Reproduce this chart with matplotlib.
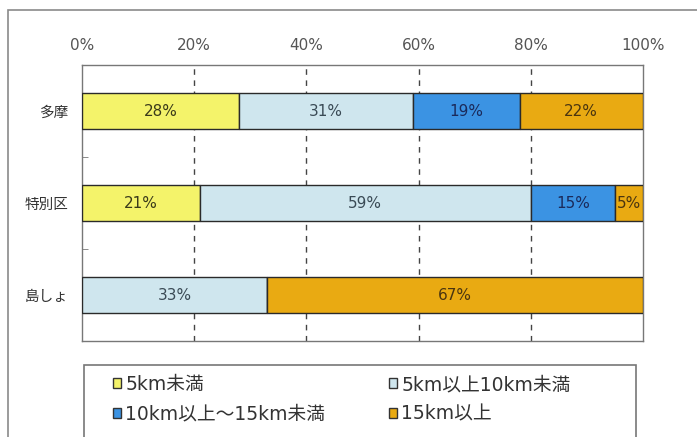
import numpy as np
import matplotlib
matplotlib.use("Agg")
import matplotlib.pyplot as plt
from matplotlib.patches import Rectangle, Patch

plt.rcParams["font.family"] = ["DejaVu Sans", "Noto Sans CJK JP"]

regions = ["多摩", "特別区", "島しょ"]
categories = ["5km未満", "5km以上10km未満", "10km以上～15km未満", "15km以上"]
shares = {
    "5km未満": [28, 21, 0],
    "5km以上10km未満": [31, 59, 33],
    "10km以上～15km未満": [19, 15, 0],
    "15km以上": [22, 5, 67],
}
colors = ["#f4f36a", "#cfe6ee", "#3b93e3", "#e9aa12"]
text_colors = ["#3a3a1a", "#3a4a55", "#1b2a5a", "#4a3510"]
xticks = [0, 20, 40, 60, 80, 100]

fig = plt.figure(figsize=(6.97, 4.37), dpi=100)
W, H = 697, 437

# outer frame of the figure panel
fig.patches.append(Rectangle((8 / W, -0.1), 2.0, 1 - 10 / H + 0.1,
                             transform=fig.transFigure, fill=False,
                             edgecolor="#8a8a8a", linewidth=1.2))

ax = fig.add_axes([82 / W, 1 - 341 / H, (643 - 82) / W, (341 - 65) / H])
y = np.arange(len(regions))
left = np.zeros(len(regions))
for cat, col, tcol in zip(categories, colors, text_colors):
    vals = np.array(shares[cat], dtype=float)
    ax.barh(y, vals, left=left, height=0.4, color=col,
            edgecolor="#2a2a2a", linewidth=1.0, zorder=3)
    for yi, v, l in zip(y, vals, left):
        if v > 0:
            ax.text(l + v / 2, yi, f"{int(v)}%", ha="center", va="center",
                    fontsize=11, color=tcol, zorder=4)
    left += vals

ax.set_xlim(0, 100)
ax.set_ylim(2.5, -0.5)
ax.set_xticks(xticks)
ax.set_xticklabels([f"{t}%" for t in xticks], fontsize=11, color="#555555")
ax.xaxis.tick_top()
ax.tick_params(axis="x", length=0, pad=9)
ax.set_yticks(y)
ax.set_yticklabels(regions, fontsize=10.5, color="#333333")
ax.tick_params(axis="y", length=0, pad=10)
ax.set_yticks([0.5, 1.5], minor=True)
ax.tick_params(axis="y", which="minor", direction="in", length=4,
               color="#777777")
for t in xticks[1:-1]:
    ax.axvline(t, color="#444444", linestyle=(0, (4, 4)), linewidth=1.0,
               zorder=1)
for s in ax.spines.values():
    s.set_color("#777777")
    s.set_linewidth(1.0)

# legend box, its lower edge runs off the bottom of the figure
fig.patches.append(Rectangle((84 / W, -0.1), (636 - 84) / W,
                             (437 - 365) / H + 0.1,
                             transform=fig.transFigure, fill=False,
                             edgecolor="#777777", linewidth=1.2))
handles = [Patch(facecolor=c, edgecolor="#333333", linewidth=1.0, label=l)
           for c, l in zip(colors, categories)]
order = [0, 2, 1, 3]
leg = fig.legend([handles[i] for i in order], [categories[i] for i in order],
                 ncol=2, frameon=False, loc="upper left", borderpad=0,
                 borderaxespad=0, bbox_to_anchor=(113 / W, 1 - 375 / H),
                 fontsize=13.5, handlelength=0.45, handleheight=0.45,
                 handletextpad=0.2, columnspacing=3.4, labelspacing=0.55)
for t in leg.get_texts():
    t.set_color("#333333")

fig.savefig("out.png", dpi=100)
